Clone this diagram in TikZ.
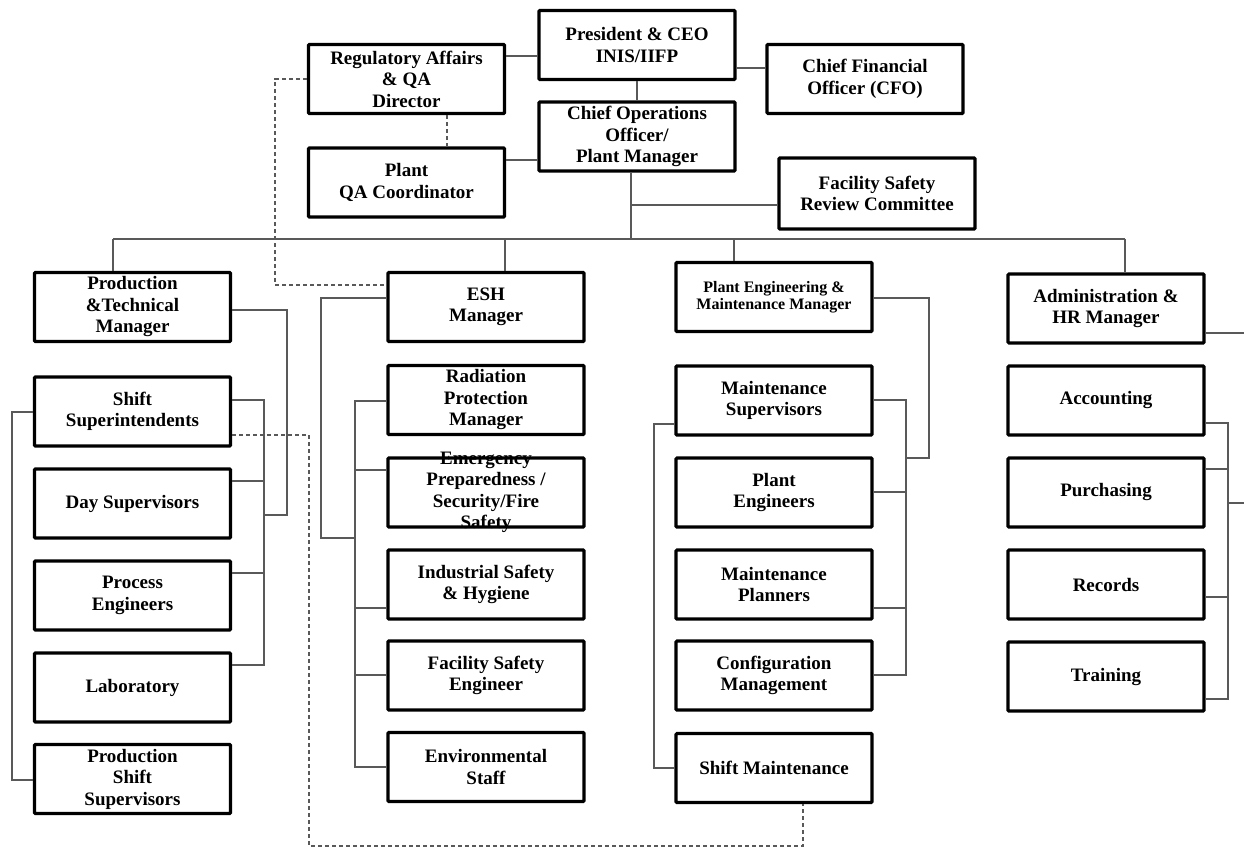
\documentclass[tikz,border=0pt]{standalone}
\usepackage{fontspec}
\setmainfont{Liberation Serif}
\begin{document}
\begin{tikzpicture}[x=1pt,y=-1pt,
  box/.style={draw=black,line width=3.2pt,rounded corners=1pt,minimum width=196pt,minimum height=69pt,inner sep=0pt,align=center,font=\fontsize{19}{21.5}\selectfont\bfseries},
  txt/.style={inner sep=0pt,align=center,font=\fontsize{19}{21.5}\selectfont\bfseries},
  conn/.style={draw=black!65,line width=1.5pt},
  dashconn/.style={draw=black!65,line width=1.5pt,dash pattern=on 4pt off 3pt}]
\useasboundingbox (0,0) rectangle (1244,850);
% top
\node[box] (pres) at (637,45) {President \& CEO\\INIS/IIFP};
\node[box] (reg) at (406.5,79) {Regulatory Affairs\\\& QA\\Director};
\node[box] (cfo) at (865,79) {Chief Financial\\Officer (CFO)};
\node[box] (coo) at (637,136.5) {Chief Operations\\Officer/\\Plant Manager};
\node[box] (pqa) at (406.5,182.5) {Plant\\QA Coordinator};
\node[box,minimum height=71pt] (fsrc) at (877,193.5) {Facility Safety\\Review Committee};
% second tier
\node[box] (prod) at (132.5,307) {Production\\\&Technical\\Manager};
\node[box] (esh) at (486,307) {ESH\\Manager};
\node[box,font=\fontsize{16}{17}\selectfont\bfseries] (pem) at (774,297) {Plant Engineering \&\\Maintenance Manager};
\node[box] (adm) at (1106,308.5) {Administration \&\\HR Manager};
% left column
\node[box] (ss) at (132.5,411.5) {Shift\\Superintendents};
\node[box] (ds) at (132.5,503.5) {Day Supervisors};
\node[box] (pe) at (132.5,595.5) {Process\\Engineers};
\node[box] (lab) at (132.5,687.5) {Laboratory};
\node[box] (pss) at (132.5,779) {Production\\Shift\\Supervisors};
% ESH column
\node[box] (rp) at (486,400) {Radiation\\Protection\\Manager};
\node[box] (em) at (486,492.5) {};
\node[txt] (emt) at (em) {Emergency\\Preparedness /\\Security/Fire\\Safety};
\node[box] (is) at (486,584.5) {Industrial Safety\\\& Hygiene};
\node[box] (fse) at (486,675.5) {Facility Safety\\Engineer};
\node[box] (env) at (486,767) {Environmental\\Staff};
% PEM column
\node[box] (ms) at (774,400.5) {Maintenance\\Supervisors};
\node[box] (pen) at (774,492.5) {Plant\\Engineers};
\node[box] (mp) at (774,584.5) {Maintenance\\Planners};
\node[box] (cm) at (774,675.5) {Configuration\\Management};
\node[box] (sm) at (774,768) {Shift Maintenance};
% admin column
\node[box] (acc) at (1106,400.5) {Accounting};
\node[box] (pur) at (1106,492.5) {Purchasing};
\node[box] (rec) at (1106,584.5) {Records};
\node[box] (tr) at (1106,676.5) {Training};
% coordinates
\coordinate (busL) at (113,239);
\coordinate (busR) at (1125,239);
\coordinate (busC) at (631,239);
\coordinate (edgeA) at (1244,333);
\coordinate (edgeB) at (1244,503);
% top connectors
\draw[conn] (reg.east |- 0,56) -- (pres.west |- 0,56);
\draw[conn] (pres.east |- 0,68) -- (cfo.west |- 0,68);
\draw[conn] (pres.south) -- (coo.north);
\draw[conn] (pqa.east |- 0,160) -- (coo.west |- 0,160);
\draw[dashconn] (reg.south -| 447,0) -- (pqa.north -| 447,0);
\draw[conn] (coo.south -| busC) -- (busC);
\draw[conn] (631,205) -- (fsrc.west |- 0,205);
\draw[conn] (busL) -- (busR);
\draw[conn] (busL) -- (prod.north -| busL);
\draw[conn] (505,239) -- (esh.north -| 505,0);
\draw[conn] (734,239) -- (pem.north -| 734,0);
\draw[conn] (busR) -- (adm.north -| busR);
\draw[dashconn] (reg.west |- 0,79) -- (275,79) -- (275,285) -- (esh.west |- 0,285);
% left column connectors
\draw[conn] (prod.east |- 0,310) -- (287,310) -- (287,515) -- (264,515);
\draw[conn] (ss.east |- 0,400) -- (264,400) -- (264,665) -- (lab.east |- 0,665);
\draw[conn] (ds.east |- 0,481) -- (264,481);
\draw[conn] (pe.east |- 0,573) -- (264,573);
\draw[conn] (ss.west |- 0,412) -- (12,412) -- (12,780) -- (pss.west |- 0,780);
\draw[dashconn] (ss.east |- 0,435) -- (309,435) -- (309,846) -- (803,846) -- (sm.south -| 803,0);
% ESH connectors
\draw[conn] (esh.west |- 0,298) -- (321,298) -- (321,538) -- (355,538);
\draw[conn] (rp.west |- 0,401) -- (355,401) -- (355,767) -- (env.west |- 0,767);
\draw[conn] (em.west |- 0,470) -- (355,470);
\draw[conn] (is.west |- 0,608) -- (355,608);
\draw[conn] (fse.west |- 0,675) -- (355,675);
% PEM connectors
\draw[conn] (pem.east |- 0,298) -- (929,298) -- (929,458) -- (906,458);
\draw[conn] (ms.east |- 0,400) -- (906,400) -- (906,675) -- (cm.east |- 0,675);
\draw[conn] (pen.east |- 0,492) -- (906,492);
\draw[conn] (mp.east |- 0,608) -- (906,608);
\draw[conn] (ms.west |- 0,424) -- (654,424) -- (654,768) -- (sm.west |- 0,768);
% admin connectors
\draw[conn] (adm.east |- edgeA) -- (edgeA);
\draw[conn] (acc.east |- 0,423) -- (1228,423) -- (1228,699) -- (tr.east |- 0,699);
\draw[conn] (pur.east |- 0,469) -- (1228,469);
\draw[conn] (rec.east |- 0,597) -- (1228,597);
\draw[conn] (1228,503) -- (edgeB);
\end{tikzpicture}
\end{document}
